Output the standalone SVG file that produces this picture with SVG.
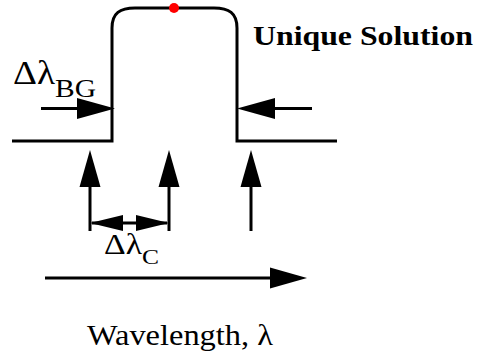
<svg xmlns="http://www.w3.org/2000/svg" width="478" height="358" viewBox="0 0 478 358">
<style>
.ln{fill:none;stroke:#000;stroke-width:3}
.hd{fill:#000;stroke:none}
text{font-family:'Liberation Serif','Times New Roman',Times,serif;fill:#000}
</style>
<rect width="478" height="358" fill="#fff"/>
<g id="spectrum">
<path class="ln" d="M12,141 H112 V28 C112,13 120,8 135,8 H214 C229,8 237,13 237,28 V141 H337"/>
<circle cx="174" cy="8" r="5" fill="#f00"/>
</g>
<g id="connectors">
<line class="ln" x1="41" y1="108.5" x2="80" y2="108.5"/>
<polygon class="hd" points="115,108.5 77,98 77,119"/>
<line class="ln" x1="312" y1="108.5" x2="272" y2="108.5"/>
<polygon class="hd" points="237,108.5 275,98 275,119"/>
<line class="ln" x1="90" y1="231" x2="90" y2="185"/>
<polygon class="hd" points="90,150 79.5,187 100.5,187"/>
<line class="ln" x1="169" y1="231" x2="169" y2="185"/>
<polygon class="hd" points="169,150 158.5,187 179.5,187"/>
<line class="ln" x1="251" y1="231" x2="251" y2="185"/>
<polygon class="hd" points="251,150 240.5,187 261.5,187"/>
<line class="ln" x1="92" y1="223" x2="167" y2="223"/>
<polygon class="hd" points="90,223 123,215 123,231"/>
<polygon class="hd" points="169,223 136,215 136,231"/>
<line class="ln" x1="45" y1="278" x2="272" y2="278"/>
<polygon class="hd" points="307,278 270,267.5 270,288.5"/>
</g>
<g id="label-unique">
<text x="253" y="45" font-size="26.5" font-weight="bold" textLength="220" lengthAdjust="spacingAndGlyphs">Unique Solution</text>
</g>
<g id="label-bg">
<text x="13" y="84" font-size="34" textLength="42" lengthAdjust="spacingAndGlyphs">Δλ</text>
<text x="55" y="97" font-size="25" textLength="41" lengthAdjust="spacingAndGlyphs">BG</text>
</g>
<g id="label-c">
<text x="104" y="254" font-size="29" textLength="38" lengthAdjust="spacingAndGlyphs">Δλ</text>
<text x="142" y="264" font-size="21" textLength="17" lengthAdjust="spacingAndGlyphs">C</text>
</g>
<g id="label-wavelength">
<text x="87" y="345" font-size="29.5" textLength="186" lengthAdjust="spacingAndGlyphs">Wavelength, λ</text>
</g>
</svg>
